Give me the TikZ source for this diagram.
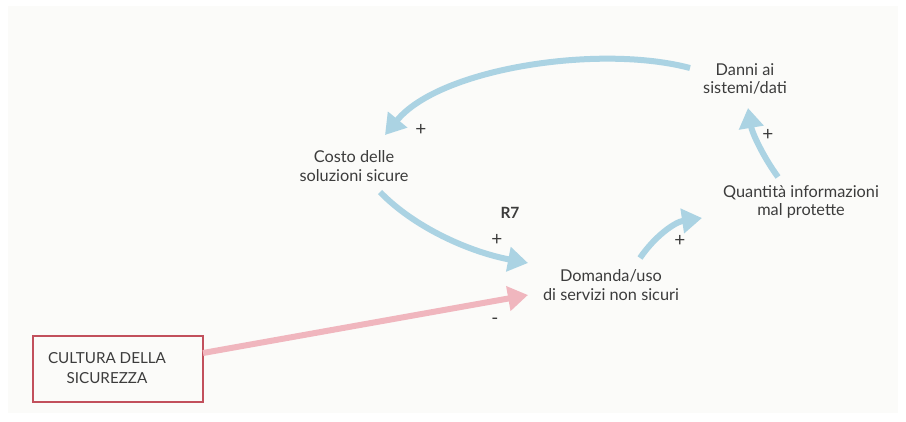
\documentclass[tikz,border=0pt]{standalone}
\usepackage{fontspec}
\setmainfont{Lato}
\usetikzlibrary{arrows.meta,calc}
\definecolor{panel}{HTML}{FBFBF9}
\definecolor{txt}{HTML}{3C3C3C}
\definecolor{linkblue}{HTML}{ABD3E3}
\definecolor{linkred}{HTML}{F0B6BE}
\definecolor{boxred}{HTML}{C2505C}
\begin{document}
\begin{tikzpicture}[x=1pt,y=-1pt,
  lbl/.style={font=\fontsize{16.3}{18.5}\selectfont, text=txt, align=center, inner sep=0pt},
  sgn/.style={font=\fontsize{19}{19}\selectfont, text=txt, inner sep=0pt},
  bluelink/.style={draw=linkblue, line width=6pt, -{Triangle[length=20pt,width=24pt]}},
  redlink/.style={draw=linkred, line width=6pt, -{Triangle[length=20pt,width=24pt]}},
  cultbox/.style={draw=boxred, line width=1.1pt, minimum width=170pt, minimum height=66pt, inner sep=0pt},
  culttext/.style={font=\fontsize{15.2}{20}\selectfont, text=txt, align=center, inner sep=0pt}
]
\useasboundingbox (0,0) rectangle (906,421);
\fill[white] (0,0) rectangle (906,421);
\fill[panel] (8,6) rectangle (898,413);

\node[lbl] (danni) at (745,79) {Danni ai\\sistemi/dati};
\node[lbl] (costo) at (354,166) {Costo delle\\soluzioni sicure};
\node[lbl] (quant) at (801,202) {Quantità informazioni\\mal protette};
\node[lbl] (dom) at (611,285) {Domanda/uso\\di servizi non sicuri};
\node[cultbox] (cult) at (118,369) {};
\node[culttext] (cultlbl) at (107,368) {CULTURA DELLA\\SICUREZZA};
\node[lbl, font=\fontsize{15.5}{16}\selectfont\bfseries] (r7) at (510,213) {R7};

\draw[bluelink] ($(danni.center)+(-55,-11)$) .. controls (600,44) and (440,68) .. ($(costo.center)+(31,-31)$);
\draw[bluelink] ($(costo.center)+(26,26)$) .. controls (415,228) and (470,252) .. ($(dom.center)+(-83,-22)$);
\draw[bluelink] ($(dom.center)+(29,-27)$) .. controls (655,236) and (675,222) .. ($(quant.center)+(-99,16)$);
\draw[bluelink] ($(quant.center)+(-23,-25)$) .. controls (762,155) and (752,132) .. ($(danni.center)+(3,29)$);
\draw[redlink] ($(cult.center)+(85,-16)$) -- ($(dom.center)+(-83,10)$);

\node[sgn] (p1) at (421,130) {+};
\node[sgn] (p2) at (497,240) {+};
\node[sgn] (p3) at (680,241) {+};
\node[sgn] (p4) at (768,135) {+};
\node[sgn] (m1) at (495,321) {-};
\end{tikzpicture}
\end{document}
